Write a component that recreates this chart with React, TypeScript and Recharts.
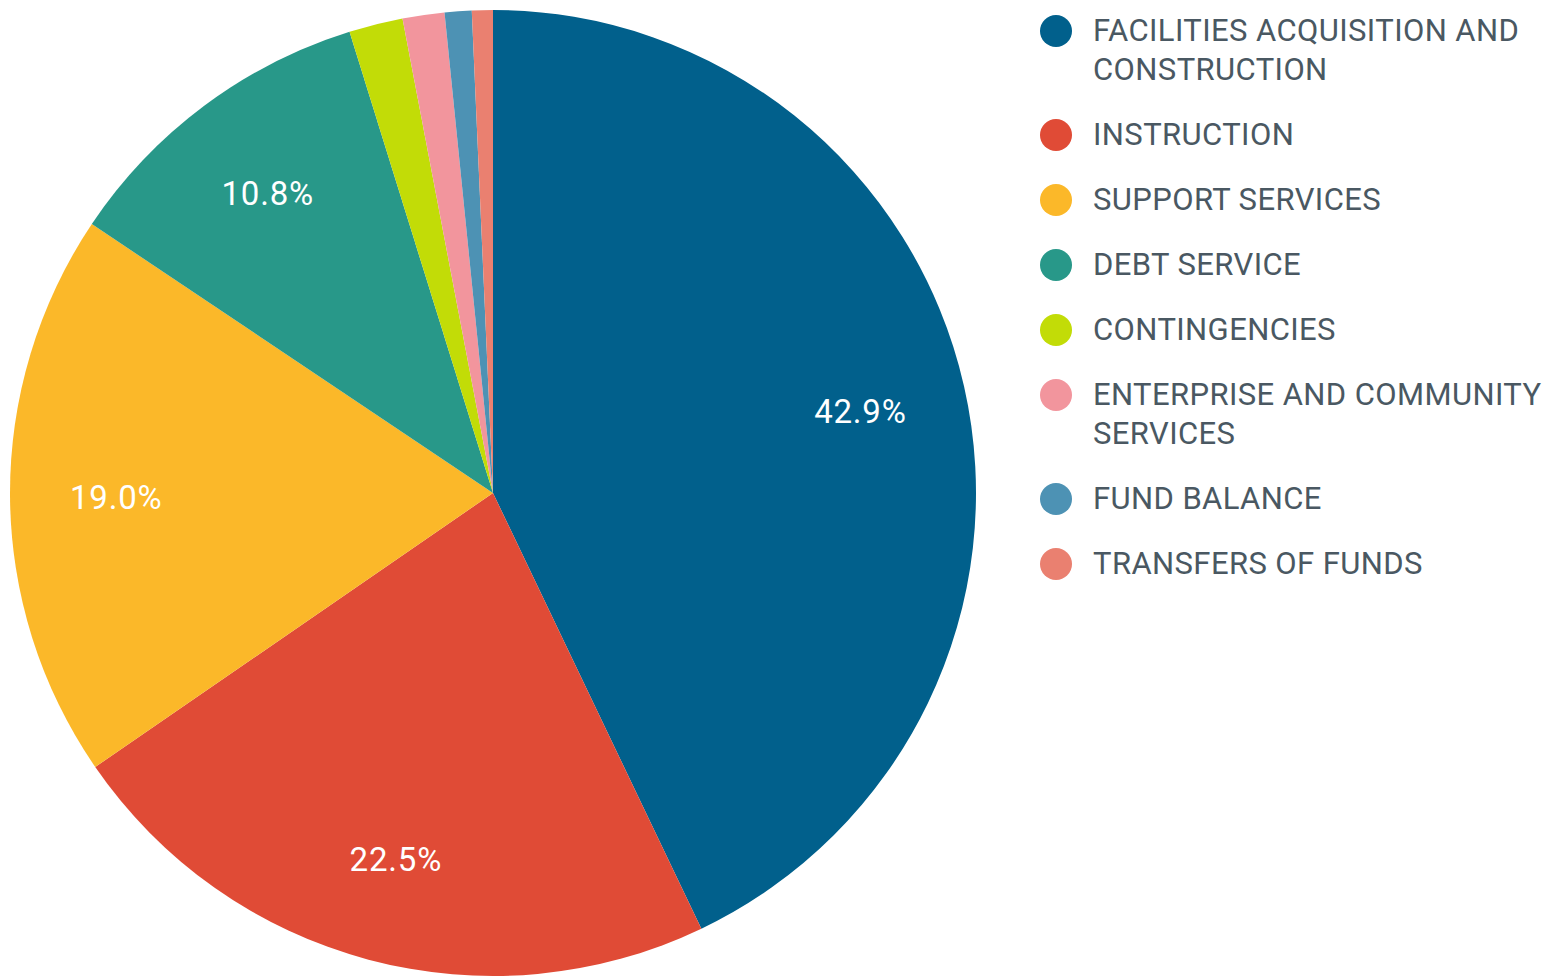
import React from "react";
import { PieChart, Pie, Cell, Legend } from "recharts";

const categories = [
  "FACILITIES ACQUISITION AND CONSTRUCTION",
  "INSTRUCTION",
  "SUPPORT SERVICES",
  "DEBT SERVICE",
  "CONTINGENCIES",
  "ENTERPRISE AND COMMUNITY SERVICES",
  "FUND BALANCE",
  "TRANSFERS OF FUNDS",
];
const legendLines = [
  ["FACILITIES ACQUISITION AND", "CONSTRUCTION"],
  ["INSTRUCTION"],
  ["SUPPORT SERVICES"],
  ["DEBT SERVICE"],
  ["CONTINGENCIES"],
  ["ENTERPRISE AND COMMUNITY", "SERVICES"],
  ["FUND BALANCE"],
  ["TRANSFERS OF FUNDS"],
];
const values = [42.9, 22.5, 19.0, 10.8, 1.8, 1.4, 0.9, 0.7];
const colors = ["#01608C", "#E04B36", "#FBB829", "#289889", "#C2DC07", "#F2959D", "#4D92B4", "#EA8070"];

const data = categories.map((name, i) => ({ name, value: values[i] }));

const FONT = "Roboto, 'Noto Sans', sans-serif";

const renderLabel = (props: any) => {
  const { cx, cy, midAngle, outerRadius, value } = props;
  if (value < 5) return null;
  const RAD = Math.PI / 180;
  const r = outerRadius * 0.78;
  const x = cx + r * Math.cos(-midAngle * RAD);
  const y = cy + r * Math.sin(-midAngle * RAD) + 2;
  return (
    <text x={x} y={y} fill="#FFFFFF" textAnchor="middle" dominantBaseline="central"
      fontFamily={FONT} fontSize={33} fontWeight={400} letterSpacing={0.8}>
      {value.toFixed(1)}%
    </text>
  );
};

const renderLegend = () => (
  <div style={{ fontFamily: FONT, fontSize: 31, letterSpacing: "0.4px", color: "#4A5862", lineHeight: "39px" }}>
    {legendLines.map((lines, i) => (
      <div key={i} style={{ display: "flex", alignItems: "flex-start", marginBottom: 26 }}>
        <div style={{ width: 32, height: 32, borderRadius: 16, background: colors[i], marginTop: 4, marginRight: 21, flexShrink: 0 }} />
        <div>
          {lines.map((l, j) => (
            <div key={j} style={{ whiteSpace: "nowrap" }}>{l}</div>
          ))}
        </div>
      </div>
    ))}
  </div>
);

export default function App() {
  return (
    <div style={{ position: "absolute", left: 0, top: 0, background: "#fff" }}>
      <PieChart width={1562} height={980} margin={{ top: 0, right: 0, bottom: 0, left: 0 }}>
        <Pie
          data={data}
          dataKey="value"
          nameKey="name"
          cx={493}
          cy={493}
          outerRadius={483}
          startAngle={90}
          endAngle={-270}
          stroke="none"
          label={renderLabel}
          labelLine={false}
          isAnimationActive={false}
        >
          {data.map((d, i) => (
            <Cell key={d.name} fill={colors[i]} />
          ))}
        </Pie>
        <Legend
          layout="vertical"
          align="right"
          verticalAlign="top"
          content={renderLegend}
          wrapperStyle={{ left: 1040, top: 11, width: 522 }}
        />
      </PieChart>
    </div>
  );
}
